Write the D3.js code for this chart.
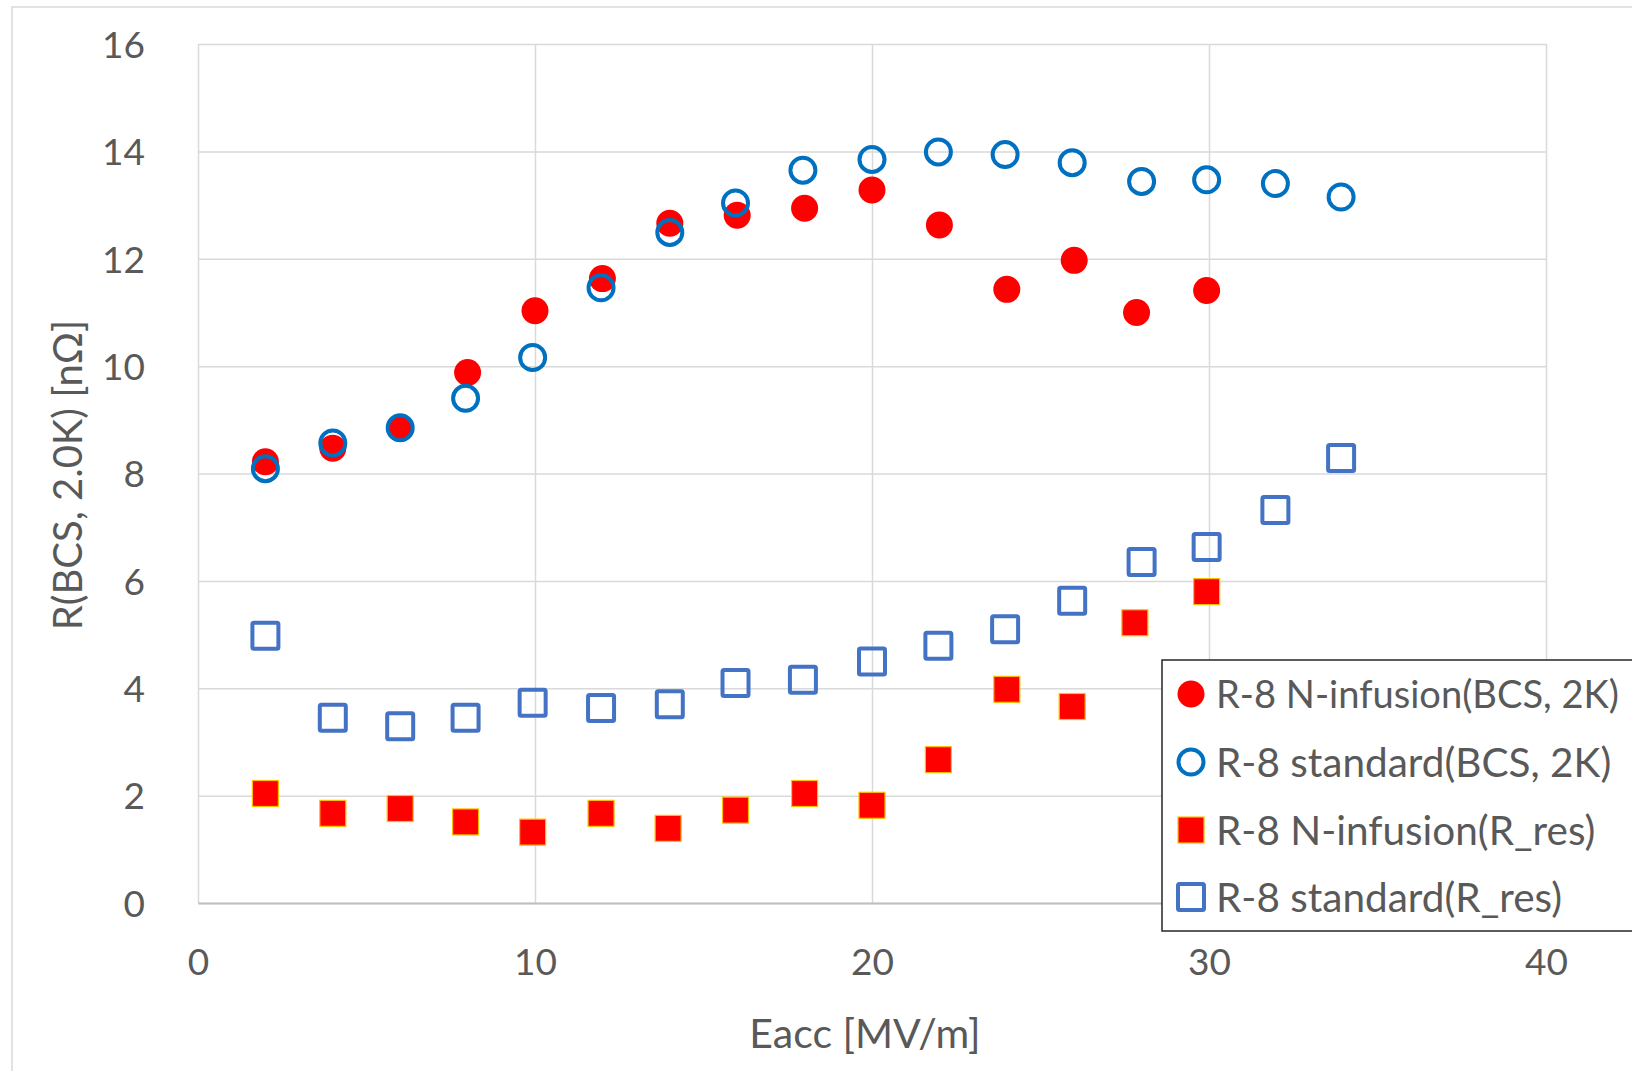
<!DOCTYPE html>
<html>
<head>
<meta charset="utf-8">
<script src="https://cdn.jsdelivr.net/npm/d3@7"></script>
<style>
  html, body { margin: 0; padding: 0; background: #fff; }
  svg { display: block; }
  text { font-family: Lato, "Open Sans", sans-serif; fill: #595959; }
</style>
</head>
<body>
<svg id="chart" width="1632" height="1071"></svg>
<script>
// ---- Data ----
const nInfBcsX = [2, 4, 6, 8, 10, 12, 14, 16, 18, 20, 22, 24, 26, 27.85, 29.93];
const nInfBcsY = [8.22, 8.47, 8.84, 9.88, 11.03, 11.63, 12.66, 12.81, 12.94, 13.28, 12.63, 11.43, 11.97, 11.0, 11.41];

const stdBcsX = [2, 4, 6, 7.94, 9.93, 11.96, 14, 15.95, 17.95, 20, 21.97, 23.95, 25.94, 28, 29.93, 31.97, 33.92];
const stdBcsY = [8.09, 8.57, 8.85, 9.40, 10.16, 11.46, 12.49, 13.04, 13.65, 13.85, 13.99, 13.94, 13.79, 13.44, 13.47, 13.40, 13.15];

const nInfResX = [2, 4, 6, 7.94, 9.93, 11.96, 13.95, 15.95, 18, 20, 21.97, 24, 25.94, 27.8, 29.93];
const nInfResY = [2.04, 1.67, 1.76, 1.51, 1.32, 1.67, 1.39, 1.73, 2.04, 1.82, 2.67, 3.98, 3.66, 5.22, 5.80];

const stdResX = [2, 4, 6, 7.94, 9.93, 11.96, 14, 15.95, 17.95, 20, 21.97, 23.95, 25.94, 28, 29.93, 31.97, 33.92];
const stdResY = [4.98, 3.45, 3.29, 3.45, 3.73, 3.63, 3.70, 4.10, 4.16, 4.50, 4.79, 5.10, 5.63, 6.35, 6.63, 7.32, 8.29];

const xTicks = [0, 10, 20, 30, 40];
const yTicks = [0, 2, 4, 6, 8, 10, 12, 14, 16];

const seriesNames = [
  "R-8 N-infusion(BCS, 2K)",
  "R-8 standard(BCS, 2K)",
  "R-8 N-infusion(R_res)",
  "R-8 standard(R_res)"
];
const xTitle = "Eacc [MV/m]";
const yTitle = "R(BCS, 2.0K) [nΩ]";

// ---- Layout ----
const svg = d3.select("#chart");
const plot = { left: 198, top: 44, right: 1546, bottom: 903 };

const x = d3.scaleLinear().domain([0, 40]).range([plot.left, plot.right]);
const y = d3.scaleLinear().domain([0, 16]).range([plot.bottom, plot.top]);

// outer chart border
svg.append("rect")
  .attr("x", 12).attr("y", 7)
  .attr("width", 1700).attr("height", 1100)
  .attr("fill", "#fff")
  .attr("stroke", "#D9D9D9").attr("stroke-width", 1.5);

// horizontal gridlines
const yGrid = svg.append("g")
  .attr("transform", `translate(${plot.left},0)`)
  .call(d3.axisLeft(y).tickValues(yTicks).tickSize(-(plot.right - plot.left)).tickFormat(""));
yGrid.select(".domain").remove();
yGrid.selectAll("line").attr("stroke", "#D9D9D9").attr("stroke-width", 1.5);

// vertical gridlines
const xGrid = svg.append("g")
  .attr("transform", `translate(0,${plot.bottom})`)
  .call(d3.axisBottom(x).tickValues(xTicks).tickSize(-(plot.bottom - plot.top)).tickFormat(""));
xGrid.select(".domain").remove();
xGrid.selectAll("line").attr("stroke", "#D9D9D9").attr("stroke-width", 1.5);

// x axis line + labels
const xAxis = svg.append("g")
  .attr("transform", `translate(0,${plot.bottom})`)
  .call(d3.axisBottom(x).tickValues(xTicks).tickSize(0).tickPadding(0));
xAxis.select(".domain").attr("stroke", "#BFBFBF").attr("stroke-width", 2);
xAxis.selectAll("text")
  .attr("y", 72).attr("dy", 0)
  .style("font-size", "37px").style("fill", "#595959")
  .style("font-family", "Lato, 'Open Sans', sans-serif");

// y axis labels
const yAxis = svg.append("g")
  .attr("transform", `translate(${plot.left},0)`)
  .call(d3.axisLeft(y).tickValues(yTicks).tickSize(0).tickPadding(53));
yAxis.select(".domain").remove();
yAxis.selectAll("text")
  .attr("dy", "0.36em")
  .style("font-size", "37px").style("fill", "#595959")
  .style("font-family", "Lato, 'Open Sans', sans-serif");

// axis titles
svg.append("text")
  .attr("x", 865).attr("y", 1048)
  .attr("text-anchor", "middle")
  .style("font-size", "41px")
  .text(xTitle);

svg.append("text")
  .attr("transform", "translate(82,475) rotate(-90)")
  .attr("text-anchor", "middle")
  .style("font-size", "40px")
  .text(yTitle);

// ---- Marks ----
const zip = (xs, ys) => xs.map((v, i) => ({ x: v, y: ys[i] }));

const sq = 26;
const styles = {
  redCircle: g => g.append("circle").attr("r", 13.5).attr("fill", "#FF0000"),
  blueCircle: g => g.append("circle").attr("r", 12.5).attr("fill", "none").attr("stroke", "#0070C0").attr("stroke-width", 4),
  redSquare: g => g.append("rect").attr("x", -sq / 2).attr("y", -sq / 2).attr("width", sq).attr("height", sq)
    .attr("fill", "#FF0000").attr("stroke", "#FFC000").attr("stroke-width", 1.2),
  blueSquare: g => g.append("rect").attr("x", -sq / 2).attr("y", -sq / 2).attr("width", sq).attr("height", sq).attr("rx", 1.5)
    .attr("fill", "none").attr("stroke", "#4472C4").attr("stroke-width", 4)
};

function drawSeries(data, style) {
  const g = svg.append("g");
  g.selectAll("g.pt").data(data).enter().append("g")
    .attr("class", "pt")
    .attr("transform", d => `translate(${x(d.x)},${y(d.y)})`)
    .each(function () { style(d3.select(this)); });
}

drawSeries(zip(nInfBcsX, nInfBcsY), styles.redCircle);
drawSeries(zip(stdBcsX, stdBcsY), styles.blueCircle);
drawSeries(zip(nInfResX, nInfResY), styles.redSquare);
drawSeries(zip(stdResX, stdResY), styles.blueSquare);

// ---- Legend ----
const legend = svg.append("g");
legend.append("rect")
  .attr("x", 1162).attr("y", 660)
  .attr("width", 600).attr("height", 271)
  .attr("fill", "#fff").attr("stroke", "#262626").attr("stroke-width", 1.5);

const legendStyles = [styles.redCircle, styles.blueCircle, styles.redSquare, styles.blueSquare];
const rowY = [694, 762, 830, 897];
seriesNames.forEach((name, i) => {
  const row = legend.append("g").attr("transform", `translate(1191,${rowY[i]})`);
  legendStyles[i](row);
  let fs = 40.5;
  const t = row.append("text")
    .attr("x", 25).attr("y", 0).attr("dy", "0.36em")
    .style("font-size", fs + "px")
    .text(name);
  // shrink the widest entry so it stays inside the picture
  const avail = 1620 - (1191 + 25);
  const w = t.node().getComputedTextLength();
  if (w > avail) {
    fs = Math.floor(fs * avail / w * 10) / 10;
    t.style("font-size", fs + "px");
  }
});
</script>
</body>
</html>
